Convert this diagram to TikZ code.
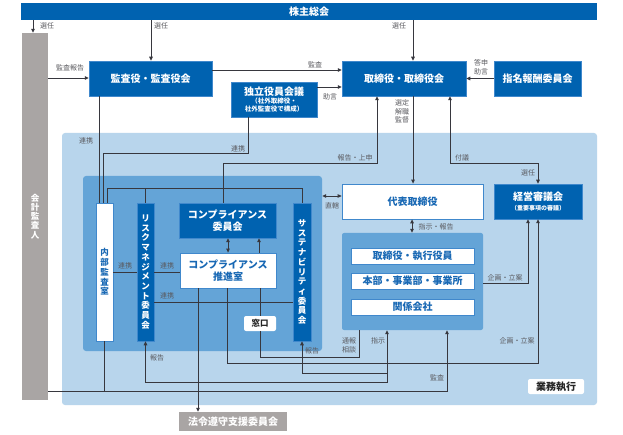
\documentclass[tikz,border=0pt]{standalone}
\usepackage{fontspec}
\setmainfont{Noto Sans CJK JP}
\usetikzlibrary{arrows.meta}
\definecolor{darkblue}{RGB}{0,98,176}
\definecolor{edgeblue}{RGB}{64,136,204}
\definecolor{midblue}{RGB}{100,164,215}
\definecolor{paleblue}{RGB}{184,213,236}
\definecolor{boxgray}{RGB}{169,165,164}
\definecolor{linegray}{RGB}{55,55,62}
\definecolor{textgray}{RGB}{90,90,95}
\definecolor{textblue}{RGB}{24,104,180}

\begin{document}
\begin{tikzpicture}[x=1pt,y=-1pt,>={Triangle[length=4pt,width=3.6pt]}]
\tikzstyle{every node}+=[inner sep=0pt]
\tikzstyle{darkbox}=[draw=edgeblue,line width=0.5pt,fill=darkblue,text=white,font=\bfseries\fontsize{10}{12}\selectfont,align=center]
\tikzstyle{whitebox}=[draw=edgeblue,line width=0.8pt,fill=white,text=textblue,font=\bfseries\fontsize{10}{12}\selectfont,align=center]
\tikzstyle{vbox}=[minimum height=138pt,align=center,font=\bfseries\fontsize{8.5}{9.7}\selectfont]
\tikzstyle{lbl}=[text=textgray,font=\fontsize{7}{8.5}\selectfont,align=center]
\tikzstyle{conn}=[draw=linegray,line width=0.9pt]
\useasboundingbox[fill=white] (0,0) rectangle (623,435);
\node[fill=paleblue,rounded corners=3pt,minimum width=535pt,minimum height=272pt] (frame) at (329.5,269) {};
\node[fill=midblue,rounded corners=3pt,minimum width=239pt,minimum height=175pt] (inner) at (202.5,263.5) {};
\node[fill=midblue,rounded corners=2pt,minimum width=141pt,minimum height=97pt] (gyomu) at (412.5,281.5) {};
\node[darkbox,draw=none,minimum width=576pt,minimum height=17pt] (kabunushi) at (309,11.5) {株主総会};
\node[fill=boxgray,text=white,align=center,font=\bfseries\fontsize{8.5}{9.2}\selectfont,minimum width=26pt,minimum height=367pt] (kaikei) at (35,216.5) {会\\計\\監\\査\\人};
\node[darkbox,minimum width=123pt,minimum height=35pt] (kansayaku) at (150.5,78.5) {監査役・監査役会};
\node[darkbox,minimum width=86pt,minimum height=35pt] (dokuritsu) at (274,99.5) {独立役員会議\\[-3.5pt]{\fontsize{6.5}{7}\selectfont （社外取締役・}\\[-4pt]{\fontsize{6.5}{7}\selectfont 社外監査役で構成）}};
\node[darkbox,minimum width=124pt,minimum height=35pt] (torishimari) at (404,78.5) {取締役・取締役会};
\node[darkbox,minimum width=87pt,minimum height=35pt] (shimei) at (537.5,78.5) {指名報酬委員会};
\node[whitebox,minimum width=141pt,minimum height=35pt] (daihyo) at (412.5,201.5) {代表取締役};
\node[darkbox,minimum width=88pt,minimum height=35pt] (keiei) at (538,201.5) {経営審議会\\[-2.5pt]{\fontsize{6}{7}\selectfont （重要事項の審議）}};
\node[whitebox,minimum width=123pt,minimum height=16pt] (shikko) at (412.5,256) {取締役・執行役員};
\node[whitebox,minimum width=123pt,minimum height=16pt] (honbu) at (412.5,281) {本部・事業部・事業所};
\node[whitebox,minimum width=123pt,minimum height=16pt] (kankei) at (412.5,307) {関係会社};
\node[whitebox,vbox,minimum width=17pt] (naibu) at (104.5,272) {内\\部\\監\\査\\室};
\node[darkbox,vbox,minimum width=17pt] (risk) at (145.5,272) {リ\\ス\\ク\\マ\\ネ\\ジ\\メ\\ン\\ト\\委\\員\\会};
\node[darkbox,vbox,minimum width=18pt] (sustain) at (302,272) {サ\\ス\\テ\\ナ\\ビ\\リ\\テ\\ィ\\委\\員\\会};
\node[darkbox,minimum width=97pt,minimum height=35pt] (compiin) at (227.5,220.5) {コンプライアンス\\委員会};
\node[whitebox,minimum width=96pt,minimum height=35pt] (suishin) at (228,270.5) {コンプライアンス\\推進室};
\node[fill=white,rounded corners=2pt,minimum width=32pt,minimum height=15pt,font=\bfseries\fontsize{8.5}{10}\selectfont,text=black!85] (madoguchi) at (260,323.5) {窓口};
\node[fill=boxgray,text=white,font=\bfseries\fontsize{10}{12}\selectfont,minimum width=108pt,minimum height=19pt] (horei) at (233,421.5) {法令遵守支援委員会};
\node[fill=white,rounded corners=2pt,minimum width=56pt,minimum height=15pt,font=\bfseries\fontsize{10}{12}\selectfont,text=black!85] (gyomulbl) at (556,386.5) {業務執行};
\draw[conn,->] (kabunushi.south -| 33,0) -- (kaikei.north -| 33,0);
\draw[conn,->] (kabunushi.south -| 151,0) -- (kansayaku.north -| 151,0);
\draw[conn,->] (kabunushi.south -| 413,0) -- (torishimari.north -| 413,0);
\draw[conn,->] (kaikei.east |- 0,78) -- (kansayaku.west |- 0,78);
\draw[conn,->] (kansayaku.east |- 0,70) -- (torishimari.west |- 0,70);
\draw[conn,->] (dokuritsu.east |- 0,87) -- (torishimari.west |- 0,87);
\draw[conn,->] (shimei.west) -- (torishimari.east);
\draw[conn,->] (torishimari.south -| 413,0) -- (daihyo.north -| 413,0);
\draw[conn,->] (compiin.north -| 223,0) -- (223,163) -- (377,163) -- (torishimari.south -| 377,0);
\draw[conn,<->] (torishimari.south -| 450,0) -- (450,163) -- (538,163) -- (keiei.north -| 538,0);
\draw[conn,<->] (daihyo.south -| 412,0) -- (gyomu.north -| 412,0);
\draw[conn,<->] (inner.east |- 0,196) -- (daihyo.west |- 0,196);
\draw[conn,->] (gyomu.east |- 0,283) -- (528,283) -- (keiei.south -| 528,0);
\draw[conn,->] (suishin.south -| 227,0) -- (227,363) -- (538,363) -- (keiei.south -| 538,0);
\draw[conn] (kansayaku.south -| 99,0) -- (naibu.north -| 99,0);
\draw[conn] (dokuritsu.south -| 248,0) -- (248,153) -- (103,153) -- (naibu.north -| 103,0);
\draw[conn] (naibu.north -| 107,0) -- (107,188) -- (302,188) -- (sustain.north);
\draw[conn] (risk.north) -- (risk.north |- 0,188);
\draw[conn] (naibu.east |- 0,272) -- (risk.west |- 0,272);
\draw[conn] (risk.east |- 0,272) -- (suishin.west |- 0,272);
\draw[conn] (risk.east |- 0,302) -- (sustain.west |- 0,302);
\draw[conn,<->] (compiin.south -| 228,0) -- (suishin.north -| 228,0);
\draw[conn,->] (suishin.north -| 259,0) -- (compiin.south -| 259,0);
\draw[conn,->] (suishin.south -| 198,0) -- (horei.north -| 198,0);
\draw[conn] (suishin.south -| madoguchi) -- (madoguchi.north);
\draw[conn] (madoguchi.south) -- (madoguchi.south |- 0,357) -- (359,357) -- (gyomu.south -| 359,0);
\draw[conn,<->] (risk.south) -- (risk.south |- 0,382) -- (387,382) -- (gyomu.south -| 387,0);
\coordinate (shiji) at (387,373);
\draw[conn,->] (shiji) -- (sustain.south |- shiji) -- (sustain.south);
\draw[conn,->] (kaikei.east |- 0,391) -- (447,391) -- (gyomu.south -| 447,0);
\draw[conn] (naibu.south) -- (naibu.south |- 0,391);
\node[lbl] (sen1) at (47,26) {選任};
\node[lbl] (sen2) at (161,26) {選任};
\node[lbl] (sen3) at (399,26) {選任};
\node[lbl] (kansahokoku) at (70,68) {監査報告};
\node[lbl] (kansa1) at (315,65) {監査};
\node[lbl] (jogen1) at (330,97) {助言};
\node[lbl] (toshin) at (481,67.5) {答申\\助言};
\node[lbl] (sentei) at (402,111.5) {選定\\解職\\監督};
\node[lbl] (hokokujoshin) at (355,158) {報告・上申};
\node[lbl] (fugi) at (462,158) {付議};
\node[lbl] (sen4) at (528,173) {選任};
\node[lbl] (shijihokoku) at (436,227) {指示・報告};
\node[lbl] (chokkatsu) at (332,206) {直轄};
\node[lbl] (kikaku1) at (505,278) {企画・立案};
\node[lbl] (kikaku2) at (517,341) {企画・立案};
\node[lbl] (renkei1) at (86,141) {連携};
\node[lbl] (renkei2) at (238,149) {連携};
\node[lbl] (renkei3) at (125,266) {連携};
\node[lbl] (renkei4) at (167,266) {連携};
\node[lbl] (renkei5) at (167,296) {連携};
\node[lbl] (hokoku1) at (157,358) {報告};
\node[lbl] (hokoku2) at (312,351) {報告};
\node[lbl] (shiji1) at (378,341) {指示};
\node[lbl] (tsuho) at (349,345.5) {通報\\相談};
\node[lbl] (kansa2) at (437,378) {監査};
\end{tikzpicture}
\end{document}
